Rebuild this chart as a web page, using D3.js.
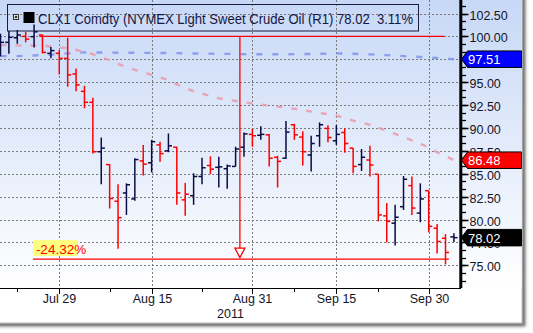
<!DOCTYPE html>
<html>
<head>
<meta charset="utf-8">
<script src="https://cdn.jsdelivr.net/npm/d3@7"></script>
<style>
  html, body { margin: 0; padding: 0; background: #fff; overflow: hidden; }
  svg { display: block; }
  text { font-family: "Liberation Sans", Arial, sans-serif; }
</style>
</head>
<body>
<svg id="chart" width="533" height="333"></svg>
<script>
// Trading sessions, 20 Jul – 5 Oct 2011 (Labor Day closed)
const dates = [
  "2011-07-20","2011-07-21","2011-07-22","2011-07-25","2011-07-26","2011-07-27","2011-07-28","2011-07-29",
  "2011-08-01","2011-08-02","2011-08-03","2011-08-04","2011-08-05",
  "2011-08-08","2011-08-09","2011-08-10","2011-08-11","2011-08-12",
  "2011-08-15","2011-08-16","2011-08-17","2011-08-18","2011-08-19",
  "2011-08-22","2011-08-23","2011-08-24","2011-08-25","2011-08-26",
  "2011-08-29","2011-08-30","2011-08-31",
  "2011-09-01","2011-09-02","2011-09-06","2011-09-07","2011-09-08","2011-09-09",
  "2011-09-12","2011-09-13","2011-09-14","2011-09-15","2011-09-16",
  "2011-09-19","2011-09-20","2011-09-21","2011-09-22","2011-09-23",
  "2011-09-26","2011-09-27","2011-09-28","2011-09-29","2011-09-30",
  "2011-10-03","2011-10-04","2011-10-05"
];

// Daily OHLC, USD/bbl
const opens = [
  99.00, 99.35, 99.85, 100.00, 99.97, 100.15, 98.15, 98.15,
  97.60, 95.90, 94.00, 92.80, 87.40,
  86.00, 82.00, 82.90, 82.25, 86.40,
  86.20, 88.15, 87.50, 87.90, 82.15,
  82.60, 84.70, 85.90, 85.70, 85.55,
  85.80, 87.90, 89.30,
  89.20, 89.25, 86.80, 86.70, 90.35, 89.00,
  87.05, 89.15, 89.95, 88.60, 89.50,
  87.80, 86.00, 86.50, 84.95, 80.40,
  79.60, 81.40, 83.70, 80.70, 83.15,
  79.05, 77.95, 78.10
];
const highs = [
  100.30, 100.60, 100.70, 100.50, 101.30, 100.20, 98.85, 98.50,
  99.85, 96.50, 94.60, 93.30, 88.95,
  86.05, 83.85, 83.95, 86.70, 88.15,
  88.70, 88.50, 89.40, 87.95, 84.00,
  85.05, 86.75, 86.90, 86.85, 86.00,
  87.95, 89.50, 89.90,
  90.20, 89.35, 86.95, 90.75, 90.45, 89.65,
  89.15, 90.60, 90.30, 90.30, 89.95,
  87.80, 87.70, 88.05, 84.95, 81.80,
  81.60, 84.75, 84.70, 83.95, 83.15,
  79.50, 78.40, 78.50
];
const lows = [
  97.80, 98.10, 99.20, 99.35, 98.80, 98.15, 97.60, 95.85,
  94.50, 94.00, 92.15, 87.20, 83.85,
  81.20, 76.80, 80.50, 82.05, 84.80,
  85.15, 86.30, 87.35, 81.60, 80.40,
  81.60, 83.85, 84.95, 83.50, 83.35,
  85.80, 86.85, 87.95,
  88.70, 85.80, 83.50, 86.60, 88.70, 85.90,
  85.25, 87.95, 88.45, 88.15, 87.30,
  85.05, 85.30, 84.70, 79.80, 77.50,
  77.15, 81.05, 80.50, 79.70, 78.60,
  76.30, 75.10, 77.55
];
const closes = [
  99.35, 99.90, 100.15, 99.70, 100.50, 98.25, 98.45, 97.60,
  95.80, 94.70, 92.80, 87.40, 87.80,
  82.30, 80.20, 83.80, 86.55, 86.05,
  88.50, 87.20, 88.05, 82.90, 82.76,
  84.70, 85.65, 85.50, 85.75, 85.85,
  87.70, 89.35, 89.15,
  89.30, 86.70, 86.35, 89.55, 89.25, 87.40,
  88.30, 90.35, 88.95, 89.30, 88.30,
  85.80, 86.80, 85.95, 80.50, 79.80,
  80.25, 84.40, 81.25, 82.25, 79.25,
  77.60, 76.40, 78.02
];

// Moving averages on close
const maShort = [
  99.05, 99.04, 99.02, 99.00, 99.00, 98.98, 98.90, 98.80,
  98.70, 98.52, 98.30, 98.05, 97.75,
  97.40, 97.00, 96.68, 96.35, 96.08,
  95.80, 95.52, 95.25, 94.75, 94.38,
  94.00, 93.75, 93.50, 93.25, 93.10,
  92.95, 92.80, 92.68,
  92.55, 92.45, 92.35, 92.22, 92.10, 91.95,
  91.80, 91.65, 91.50, 91.35, 91.08,
  90.80, 90.58, 90.35, 90.02, 89.70,
  89.35, 89.00, 88.65, 88.30, 87.85,
  87.35, 86.95, 86.48
];
const maLong = [
  97.85, 97.85, 97.85, 97.88, 97.92, 97.95, 98.00, 98.08,
  98.15, 98.20, 98.25, 98.25, 98.24,
  98.23, 98.22, 98.22, 98.21, 98.20,
  98.20, 98.19, 98.18, 98.17, 98.15,
  98.14, 98.13, 98.12, 98.10, 98.09,
  98.08, 98.06, 98.05,
  98.05, 98.05, 98.05, 98.05, 98.06, 98.07,
  98.08, 98.10, 98.12, 98.15, 98.12,
  98.10, 98.07, 98.04, 98.00, 97.95,
  97.90, 97.85, 97.80, 97.75, 97.70,
  97.64, 97.58, 97.51
];

// Axis labelling
const yTickValues = [75, 77.5, 80, 82.5, 85, 87.5, 90, 92.5, 95, 97.5, 100, 102.5];
const xTickDates  = ["2011-07-29","2011-08-15","2011-08-31","2011-09-15","2011-09-30"];
const xTickLabels = ["Jul 29","Aug 15","Aug 31","Sep 15","Sep 30"];
const xMinorDates = ["2011-07-22","2011-08-08","2011-08-23","2011-09-08","2011-09-22"];
const yearLabel = "2011";

// Last-value flags on the price axis
const flagValues = [maLong[maLong.length - 1], maShort[maShort.length - 1], closes[closes.length - 1]];
const flagColors = ["#0000ff", "#ff0000", "#000000"];

// Peak-to-trough measurement
const measureFrom = 100.00;
const measureTo = 75.68;

const titleText = "CLX1 Comdty (NYMEX Light Sweet Crude Oil (R1) 78.02  3.11%";

// ---------------------------------------------------------------
const svg = d3.select("#chart");
const W = 533, H = 333;
const panelRight = 522, panelBottom = 323;
const plotRight = 461, plotBottom = 288;

const x = d3.scalePoint().domain(dates).range([0.5, 453.9]);
const y = d3.scaleLinear().domain([75, 100]).range([265.3, 36.4]);

const defs = svg.append("defs");
const shadow = defs.append("filter").attr("id", "shadow")
  .attr("x", "-10%").attr("y", "-10%").attr("width", "130%").attr("height", "130%");
shadow.append("feDropShadow").attr("dx", 3).attr("dy", 3).attr("stdDeviation", 1.8)
  .attr("flood-color", "#404040").attr("flood-opacity", 0.75);

const grad = defs.append("linearGradient").attr("id", "bg")
  .attr("x1", 0).attr("y1", 0).attr("x2", 0).attr("y2", 1);
grad.append("stop").attr("offset", "0%").attr("stop-color", "#c3d5f6");
grad.append("stop").attr("offset", "100%").attr("stop-color", "#ffffff");

// panel with shadow
svg.append("rect").attr("x", -20).attr("y", -20)
  .attr("width", panelRight + 20).attr("height", panelBottom + 20)
  .attr("fill", "#fff").attr("stroke", "#b8b8b8").attr("filter", "url(#shadow)");
svg.append("rect").attr("x", -20).attr("y", -20)
  .attr("width", panelRight + 19.5).attr("height", plotBottom + 20)
  .attr("fill", "url(#bg)");

// grid
const grid = svg.append("g").attr("stroke", "#7a7a7a").attr("stroke-width", 1)
  .attr("stroke-dasharray", "2,2").attr("fill", "none");
yTickValues.forEach(v => {
  const yy = Math.round(y(v)) + 0.5;
  grid.append("line").attr("x1", 0).attr("x2", plotRight - 2).attr("y1", yy).attr("y2", yy);
});
xTickDates.forEach(d => {
  const xx = Math.round(x(d)) + 0.5;
  grid.append("line").attr("x1", xx).attr("x2", xx).attr("y1", 0).attr("y2", plotBottom);
});

// moving averages
const line = d3.line().x((d, i) => x(dates[i])).y(d => y(d));
svg.append("path").datum(maLong).attr("d", line).attr("fill", "none")
  .attr("stroke", "#7f93ee").attr("stroke-opacity", 0.85).attr("stroke-width", 2.4)
  .attr("stroke-dasharray", "6,10");
svg.append("path").datum(maShort).attr("d", line).attr("fill", "none")
  .attr("stroke", "#e99aab").attr("stroke-opacity", 0.85).attr("stroke-width", 2.4)
  .attr("stroke-dasharray", "6,9");

// OHLC bars, coloured against the prior close
const bars = svg.append("g").attr("stroke-width", 1.5).attr("fill", "none");
dates.forEach((d, i) => {
  const prev = i === 0 ? opens[0] : closes[i - 1];
  const col = closes[i] >= prev ? "#0b0b45" : "#ff0000";
  const cx = x(d);
  const g = bars.append("g").attr("stroke", col);
  g.append("line").attr("x1", cx).attr("x2", cx).attr("y1", y(highs[i])).attr("y2", y(lows[i]));
  g.append("line").attr("x1", cx - 3.6).attr("x2", cx).attr("y1", y(opens[i])).attr("y2", y(opens[i]));
  g.append("line").attr("x1", cx).attr("x2", cx + 3.6).attr("y1", y(closes[i])).attr("y2", y(closes[i]));
});

// measurement annotation
const ann = svg.append("g").attr("stroke", "#ff0000").attr("stroke-width", 1.3).attr("fill", "none");
const topY = y(measureFrom), botY = y(measureTo);
const topX0 = x(dates[5]) - 3, topX1 = x(dates[53]) - 1;
const botX0 = x(dates[4]) - 1.2, botX1 = x(dates[53]) + 3.4;
const midX = (botX0 + botX1) / 2 - 1;
ann.append("line").attr("x1", topX0).attr("x2", topX1).attr("y1", topY).attr("y2", topY);
ann.append("line").attr("x1", botX0).attr("x2", botX1).attr("y1", botY).attr("y2", botY);
ann.append("line").attr("x1", midX).attr("x2", midX).attr("y1", topY).attr("y2", botY - 11);
ann.append("path").attr("fill", "#fff")
  .attr("d", `M${midX - 5},${botY - 11} L${midX + 5},${botY - 11} L${midX},${botY - 1.5} Z`);
const pct = ((measureTo / measureFrom - 1) * 100).toFixed(2) + "%";
svg.append("rect").attr("x", botX0).attr("y", botY - 19).attr("width", 45).attr("height", 16)
  .attr("fill", "#ffff80");
svg.append("text").attr("x", botX0 + 3).attr("y", botY - 5.5).attr("font-size", 13.5)
  .attr("fill", "#ff0000").text(pct);

// legend header
const leg = svg.append("g");
leg.append("rect").attr("x", 7.5).attr("y", 4.5).attr("width", 411).attr("height", 26.5)
  .attr("fill", "none").attr("stroke", "#1b1b40").attr("stroke-width", 1);
leg.append("rect").attr("x", 13.5).attr("y", 14.5).attr("width", 5).attr("height", 5)
  .attr("fill", "#fff").attr("stroke", "#333").attr("stroke-width", 1);
leg.append("path").attr("d", "M14.5,17 L17.5,17 M16,15.5 L16,18.5").attr("stroke", "#000").attr("stroke-width", 1);
leg.append("rect").attr("x", 23.5).attr("y", 12).attr("width", 11).attr("height", 11).attr("fill", "#000");
leg.append("text").attr("x", 38).attr("y", 24).attr("font-size", 14.5)
  .attr("fill", "#161640").attr("textLength", 375).attr("lengthAdjust", "spacingAndGlyphs")
  .style("white-space", "pre").text(titleText);

// price axis (right)
const ax = svg.append("g");
ax.append("rect").attr("x", 459.3).attr("y", 0).attr("width", 3).attr("height", plotBottom).attr("fill", "#000");
d3.range(72.5, 104.2, 2.5 / 3).forEach(v => {
  const yy = Math.round(y(v)) + 0.5;
  if (yy > plotBottom) return;
  ax.append("line").attr("x1", 462).attr("x2", 466).attr("y1", yy).attr("y2", yy)
    .attr("stroke", "#000").attr("stroke-width", 1.3);
});
yTickValues.forEach(v => {
  const yy = Math.round(y(v)) + 0.5;
  ax.append("line").attr("x1", 462).attr("x2", 468.5).attr("y1", yy).attr("y2", yy)
    .attr("stroke", "#000").attr("stroke-width", 1.5);
  ax.append("text").attr("x", 469.5).attr("y", yy + 5).attr("font-size", 12.5)
    .attr("fill", "#141428").text(v.toFixed(2));
});

// time axis (bottom)
const bx = svg.append("g").attr("stroke", "#000");
bx.append("line").attr("x1", 0).attr("x2", plotRight).attr("y1", plotBottom + 0.5).attr("y2", plotBottom + 0.5).attr("stroke-width", 1);
xTickDates.forEach((d, i) => {
  const xx = Math.round(x(d)) + 0.5;
  bx.append("line").attr("x1", xx).attr("x2", xx).attr("y1", plotBottom).attr("y2", plotBottom + 6);
  svg.append("text").attr("x", xx).attr("y", 302.5).attr("text-anchor", "middle")
    .attr("font-size", 12.5).attr("fill", "#141428").text(xTickLabels[i]);
});
xMinorDates.forEach(d => {
  const xx = Math.round(x(d)) + 0.5;
  bx.append("line").attr("x1", xx).attr("x2", xx).attr("y1", plotBottom).attr("y2", plotBottom + 4);
});
svg.append("text").attr("x", plotRight / 2).attr("y", 318).attr("text-anchor", "middle")
  .attr("font-size", 12.5).attr("fill", "#141428").text(yearLabel);

// last-value flags
flagValues.forEach((v, i) => {
  const cy = y(v), h = 16.5, x0 = 461.5;
  svg.append("path")
    .attr("d", `M${x0},${cy} L${x0 + 6},${cy - h / 2} L${panelRight - 0.5},${cy - h / 2} L${panelRight - 0.5},${cy + h / 2} L${x0 + 6},${cy + h / 2} Z`)
    .attr("fill", flagColors[i]).attr("stroke", "#000").attr("stroke-width", 1);
  svg.append("text").attr("x", 468).attr("y", cy + 5.2).attr("font-size", 13)
    .attr("fill", "#fff").text(v.toFixed(2));
});
</script>
</body>
</html>
